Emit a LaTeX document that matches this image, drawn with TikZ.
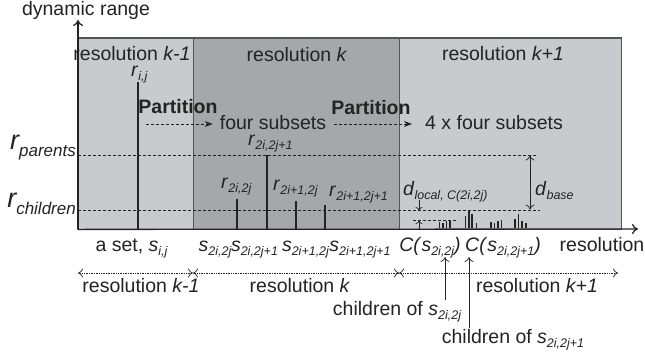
\documentclass[tikz,border=0pt]{standalone}
\usepackage{fontspec}
\setmainfont{Liberation Sans}
\usepackage{tikz}
\usetikzlibrary{arrows.meta, positioning, calc}
\definecolor{resLight}{RGB}{201,202,205}
\definecolor{resDark}{RGB}{166,167,170}
\definecolor{frameGray}{RGB}{85,85,85}
\definecolor{inkGray}{RGB}{35,35,35}
\newcommand{\isub}[2]{\textit{#1}\raisebox{-4pt}{\fontsize{12.5}{13}\selectfont\itshape #2}}
\newcommand{\bigsub}[2]{{\fontsize{27}{28}\selectfont\itshape #1}\raisebox{-7pt}{\fontsize{17}{18}\selectfont\itshape #2}}

\begin{document}
\begin{tikzpicture}[
        x=1pt, y=-1pt,
        font=\fontsize{19.5}{22}\selectfont,
        text=inkGray,
        region/.style={rectangle, draw=none, minimum height=191pt, anchor=north west, inner sep=0pt},
        lbl/.style={inner sep=0pt, anchor=base},
        lblw/.style={inner sep=0pt, anchor=base west},
        bold/.style={font=\fontsize{19.5}{22}\selectfont\bfseries},
        axis/.style={-{To[length=6pt,width=10pt]}, line width=1.3pt, inkGray},
        bar/.style={line width=2pt, inkGray},
        tick/.style={line width=1.3pt, inkGray},
        guide/.style={densely dashed, line width=0.7pt, inkGray},
        dimarrow/.style={-{To[length=5pt,width=9pt]}, line width=0.7pt, inkGray},
        dimboth/.style={{To[length=5pt,width=9pt]}-{To[length=5pt,width=9pt]}, line width=0.7pt, inkGray},
        partarrow/.style={-{Stealth[length=8pt,width=6pt]}, densely dashed, line width=0.7pt, inkGray},
        rangearrow/.style={{To[length=5pt,width=9pt]}-{To[length=5pt,width=9pt]}, densely dotted, line width=0.7pt, inkGray}
    ]
        \useasboundingbox (0,0) rectangle (645,362);

        % Regions
        \node[region, fill=resLight, minimum width=115pt] (regPrev) at (78,38) {};
        \node[region, fill=resDark, minimum width=206pt] (regCur) at (regPrev.north east) {};
        \node[region, fill=resLight, minimum width=221pt] (regNext) at (regCur.north east) {};
        \draw[frameGray, line width=1.2pt] (regPrev.north west) rectangle (regNext.south east);
        \draw[frameGray, line width=0.8pt] (regCur.north west) -- (regCur.south west);
        \draw[frameGray, line width=0.8pt] (regNext.north west) -- (regNext.south west);

        \node[lbl] (titlePrev) at (132,60) {resolution \textit{k-1}};
        \node[lbl] (titleCur) at (297,61) {resolution \textit{k}};
        \node[lbl] (titleNext) at (503,60) {resolution \textit{k+1}};

        % Axes
        \coordinate (org) at (regPrev.south west);
        \coordinate (ytip) at (78,20);
        \coordinate (xtip) at (638,229);
        \draw[axis] (org) -- (ytip);
        \draw[axis] (org) -- (xtip);
        \node[lbl] (dynRange) at (86,15) {dynamic range};
        \node[lbl] (xLabel) at (602,251) {resolution};

        % Levels
        \coordinate (parL) at (78,155);
        \coordinate (parR) at (536,155);
        \coordinate (chL) at (78,210);
        \coordinate (chR) at (540,210);
        \draw[guide] (parL) -- (parR);
        \draw[guide] (chL) -- (chR);
        \node[anchor=base east, inner sep=0pt] (rPar) at (76,149) {\bigsub{r}{parents}};
        \node[anchor=base east, inner sep=0pt] (rChild) at (76,207) {\bigsub{r}{children}};

        % Parent set
        \coordinate (rijTop) at (138,82);
        \draw[bar] (rijTop) -- (rijTop |- org);
        \node[lblw] (rij) at (131,76) {\isub{r}{i,j}};

        % Partition steps
        \node[lbl, bold] (part1) at (178,113) {Partition};
        \node[lbl] (four) at (273,129) {four subsets};
        \node[lbl, bold] (part2) at (371,114) {Partition};
        \node[lbl] (fourx) at (494,129) {4 x four subsets};
        \coordinate (p1start) at (146,124);
        \draw[partarrow, shorten >=7pt] (p1start) -- (p1start -| four.west);
        \draw[partarrow, shorten <=8pt, shorten >=13pt] (four.east |- p1start) -- (fourx.west |- p1start);

        % Four subsets
        \coordinate (r1Top) at (237,199);
        \coordinate (r2Top) at (267,155);
        \coordinate (r3Top) at (296,201);
        \coordinate (r4Top) at (325,205);
        \draw[bar] (r1Top) -- (r1Top |- org);
        \draw[bar] (r2Top) -- (r2Top |- org);
        \draw[bar] (r3Top) -- (r3Top |- org);
        \draw[bar] (r4Top) -- (r4Top |- org);
        \node[lblw] (r1) at (221,188) {\isub{r}{2i,2j}};
        \node[lblw] (r2) at (248,145) {\isub{r}{2i,2j+1}};
        \node[lblw] (r3) at (273,190) {\isub{r}{2i+1,2j}};
        \node[lblw] (r4) at (329,196) {\isub{r}{2i+1,2j+1}};

        % Children
        \draw[tick] (439.5,228) -- (439.5,222) (443,228) -- (443,223) (446.5,228) -- (446.5,221) (450,228) -- (450,220);
        \draw[tick] (465.5,228) -- (465.5,216) (469,228) -- (469,211) (472,228) -- (472,214) (476.5,228) -- (476.5,223);
        \draw[tick] (491,228) -- (491,222) (494.5,228) -- (494.5,223) (498,228) -- (498,221) (501.5,228) -- (501.5,220);
        \draw[tick] (515,228) -- (515,219) (518.5,228) -- (518.5,214) (522,228) -- (522,221) (526,228) -- (526,223);

        % Distances
        \coordinate (locL) at (413,220);
        \coordinate (locR) at (458,220);
        \draw[guide] (locL) -- (locR);
        \coordinate (dlDown) at (419,200);
        \coordinate (dlHit) at (419,210.5);
        \coordinate (dlUp) at (419,229);
        \coordinate (dlTip) at (419,220.5);
        \draw[dimarrow, -{To[length=3.5pt,width=7pt]}] (dlDown) -- (dlHit);
        \draw[dimarrow, -{To[length=3.5pt,width=7pt]}] (dlUp) -- (dlTip);
        \node[lblw] (dLocal) at (403,195) {\isub{d}{local, C(2i,2j)}};
        \coordinate (dbTop) at (530,155.5);
        \coordinate (dbBot) at (530,209.5);
        \draw[dimboth] (dbTop) -- (dbBot);
        \node[lblw] (dBase) at (535,195) {\isub{d}{base}};

        % Bottom labels
        \node[lbl] (aSet) at (131.5,251) {a set, \isub{s}{i,j}};
        \node[lbl] (s1) at (215,251) {\isub{s}{2i,2j}};
        \node[lbl] (s2) at (254.5,251) {\isub{s}{2i,2j+1}};
        \node[lbl] (s3) at (305.5,251) {\isub{s}{2i+1,2j}};
        \node[lbl] (s4) at (360,251) {\isub{s}{2i+1,2j+1}};
        \node[lbl] (cs1) at (430,251) {\textit{C(}\isub{s}{2i,2j}\textit{)}};
        \node[lbl] (cs2) at (503,251) {\textit{C(}\isub{s}{2i,2j+1}\textit{)}};

        % Resolution ranges
        \coordinate (rg0) at (78,273);
        \coordinate (rg1) at (193,273);
        \coordinate (rg2) at (399,273);
        \coordinate (rg3) at (618,273);
        \draw[rangearrow] (rg0) -- (rg1);
        \draw[rangearrow] (rg1) -- (rg2);
        \draw[rangearrow] (rg2) -- (rg3);
        \node[lbl] (rangePrev) at (141,292) {resolution \textit{k-1}};
        \node[lbl] (rangeCur) at (300,292) {resolution \textit{k}};
        \node[lbl] (rangeNext) at (537,292) {resolution \textit{k+1}};

        % Children pointers
        \node[lbl] (child1) at (397,315) {children of \isub{s}{2i,2j}};
        \node[lbl] (child2) at (513,343) {children of \isub{s}{2i,2j+1}};
        \coordinate (c1Tip) at (445,257);
        \coordinate (c2Tip) at (469,257);
        \draw[dimarrow, shorten <=1pt] (c1Tip |- child1.north) -- (c1Tip);
        \draw[dimarrow, shorten <=1pt] (c2Tip |- child2.north) -- (c2Tip);
    \end{tikzpicture}
\end{document}
